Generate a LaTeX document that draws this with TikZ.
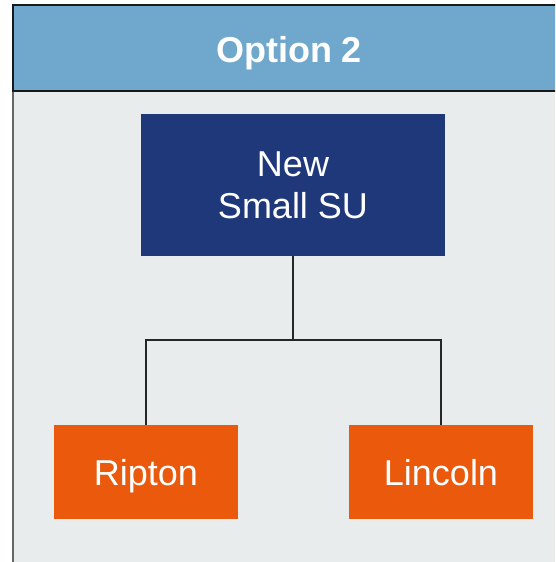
\documentclass[tikz,border=0pt]{standalone}
\usepackage{fontspec}
\setmainfont{Liberation Sans}
\definecolor{headblue}{RGB}{111,168,204}
\definecolor{panelgray}{RGB}{232,236,236}
\definecolor{navy}{RGB}{31,56,122}
\definecolor{brightorange}{RGB}{234,89,12}
\begin{document}
\begin{tikzpicture}[x=1pt,y=-1pt,
  box/.style={rectangle,inner sep=0pt,draw=none,text=white,align=center,
    font=\fontsize{36}{42}\selectfont},
  topbox/.style={box,fill=navy,minimum width=304pt,minimum height=142pt},
  leafbox/.style={box,fill=brightorange,minimum width=184pt,minimum height=94pt,
    text height=26pt,text depth=0pt},
  link/.style={draw=black!85,line width=1.5pt}]
  \useasboundingbox (0,0) rectangle (555,562);
  \clip (0,0) rectangle (555,562);
  % panel body and header band
  \fill[panelgray] (13,91) rectangle (560,570);
  \draw[black!60,line width=1.5pt] (13,91) -- (13,570);
  \fill[headblue] (13,5) rectangle (560,91);
  \draw[black!90,line width=2pt] (560,5) -- (13,5) -- (13,91) -- (560,91);
  \node[text=white,inner sep=0pt,text height=26pt,text depth=0pt,
    font=\bfseries\fontsize{36}{42}\selectfont] (title) at (289,49) {Option 2};
  % org chart
  \node[topbox] (su) at (293,185) {New\\Small SU};
  \node[leafbox] (rip) at (146,472) {Ripton};
  \node[leafbox] (lin) at (441,472) {Lincoln};
  \coordinate (mid) at (293,340);
  \draw[link] (su.south) -- (mid);
  \draw[link] (rip.north) |- (mid) -| (lin.north);
\end{tikzpicture}
\end{document}
